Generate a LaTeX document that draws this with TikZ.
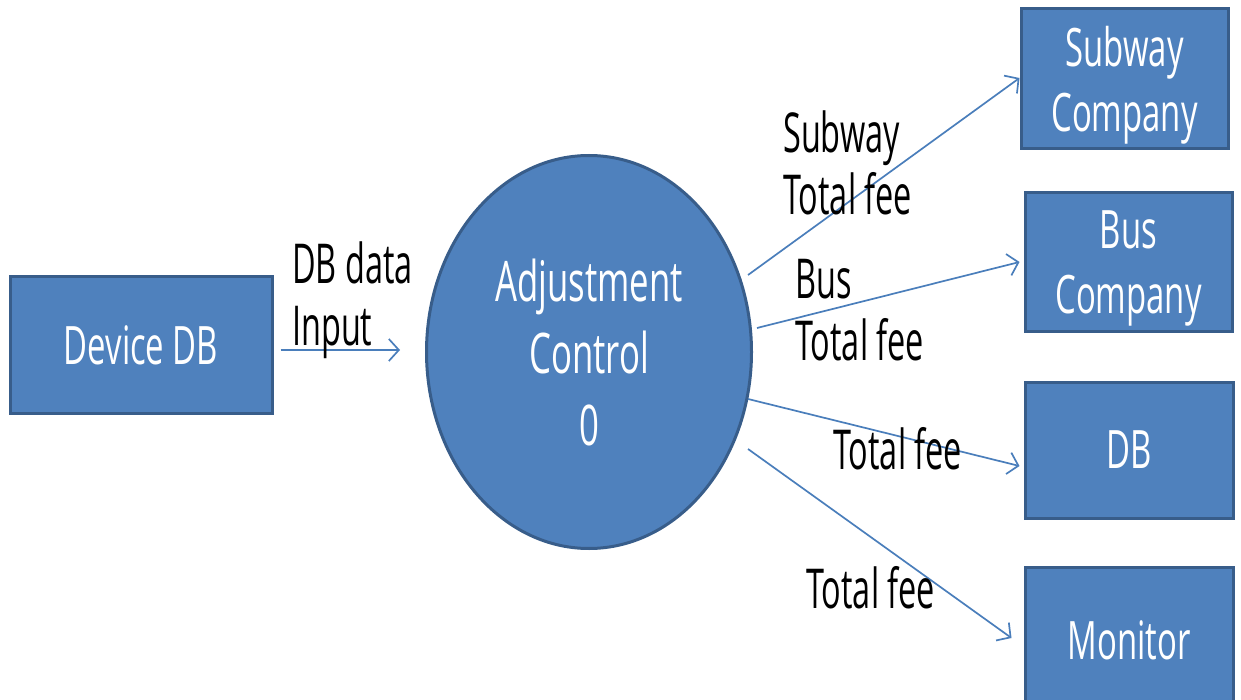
\documentclass[tikz,border=0pt]{standalone}
\usepackage{fontspec}
\setmainfont{Open Sans}[FakeStretch=0.62]
\newfontfamily\lblfont{Open Sans}[FakeStretch=0.59]
\usetikzlibrary{arrows.meta,calc,shapes.geometric}
\definecolor{boxfill}{HTML}{4F81BD}
\definecolor{boxline}{HTML}{385D8A}
\definecolor{flowc}{HTML}{4A7EBB}
\tikzset{
  box/.style={rectangle, fill=boxfill, draw=boxline, line width=3pt, text=white, align=center,
    font=\fontsize{53}{65}\selectfont, inner sep=0pt, text depth=0pt},
  proc/.style={ellipse, fill=boxfill, draw=boxline, line width=3pt, text=white, align=center,
    font=\fontsize{56}{72}\selectfont, inner sep=0pt, text depth=0pt, minimum width=325, minimum height=393},
  flow/.style={draw=flowc, line width=1.7pt, -{Straight Barb[length=10pt,width=22pt,line width=1.7pt]}},
  lbl/.style={anchor=base west, inner sep=0pt, font=\lblfont\fontsize{55}{62}\selectfont, text=black}
}
\begin{document}
\begin{tikzpicture}[x=1pt,y=-1pt]
\useasboundingbox (0,0) rectangle (1241,700);
\begin{scope}
\clip (0,0) rectangle (1241,700);
\node[box, minimum width=262, minimum height=136] (dev) at (141,345) {Device DB};
\node[proc] (ac) at (589,352) {Adjustment\\Control\\0};
\node[box, minimum width=207, minimum height=140] (sub) at (1124.5,79) {Subway\\Company};
\node[box, minimum width=207, minimum height=138] (bus) at (1128.5,262) {Bus\\Company};
\node[box, minimum width=208, minimum height=136] (db) at (1129,450) {DB};
\node[box, minimum width=208, minimum height=146] (mon) at (1129,640) {Monitor};
\end{scope}

\draw[flow] ($(dev.east)+(7,5)$) -- ($(ac.west)+(-25,-2)$);
\draw[flow] ($(ac.center)+(159,-77)$) -- ($(sub.west)+(0,-1)$);
\draw[flow] ($(ac.center)+(168,-24)$) -- ($(bus.west)+(-4,0)$);
\draw[flow] ($(ac.center)+(159,47)$) -- ($(db.west)+(-4,16)$);
\draw[flow] ($(ac.center)+(159,97)$) -- ($(mon.west)+(-12,-2)$);

\node[lbl] (l1) at (292,284) {\begin{tabular}[t]{@{}l@{}}DB data\\Input\end{tabular}};
\node[lbl] (l2) at (783,153) {\begin{tabular}[t]{@{}l@{}}Subway\\Total fee\end{tabular}};
\node[lbl] (l3) at (795,299) {\begin{tabular}[t]{@{}l@{}}Bus\\Total fee\end{tabular}};
\node[lbl] (l4) at (833,469) {Total fee};
\node[lbl] (l5) at (806,608) {Total fee};
\end{tikzpicture}
\end{document}
